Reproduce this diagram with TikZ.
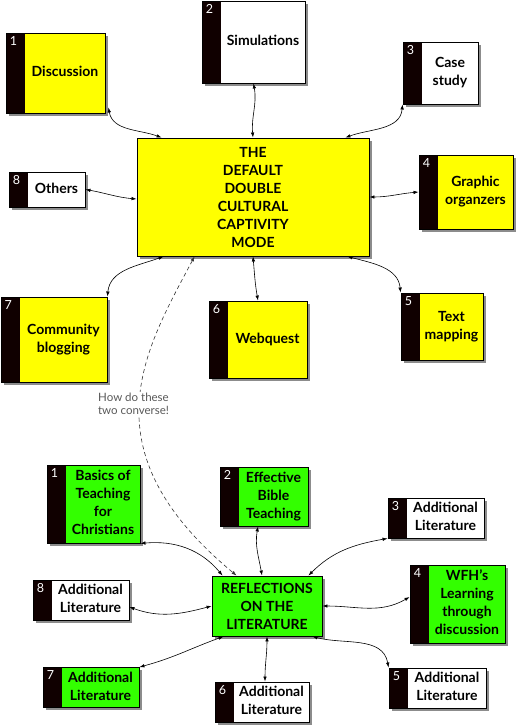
\documentclass[tikz,border=0pt]{standalone}
\usepackage{fontspec}
\setmainfont{Lato}
\usetikzlibrary{arrows.meta,shadows}

\definecolor{boxyellow}{RGB}{255,255,0}
\definecolor{boxgreen}{RGB}{51,255,0}
\definecolor{stripblack}{RGB}{16,0,0}

% text of a numbered box, pushed right of the black strip
\newcommand\striptext[1]{\begin{tabular}{@{\hspace{19pt}}c@{}}#1\end{tabular}}

\tikzset{
  plainbox/.style={draw, line width=0.9pt, inner sep=2pt, align=center,
    font=\bfseries\fontsize{14}{18}\selectfont,
    drop shadow={shadow xshift=2.5pt, shadow yshift=-2.5pt, fill=black!45, opacity=1}},
  topic/.style={draw, line width=0.9pt, inner sep=2pt,
    font=\bfseries\fontsize{14}{18}\selectfont,
    drop shadow={shadow xshift=2.5pt, shadow yshift=-2.5pt, fill=black!45, opacity=1},
    path picture={\fill[stripblack] (path picture bounding box.south west)
      rectangle ([xshift=19pt]path picture bounding box.north west);}},
  yel/.style={fill=boxyellow},
  grn/.style={fill=boxgreen},
  wht/.style={fill=white},
  numlbl/.style={anchor=north west, text=white, inner xsep=4pt, inner ysep=3.5pt,
    font=\fontsize{12.5}{12.5}\selectfont},
  nr/.style={label={[numlbl]north west:#1}},
  link/.style={{Latex[length=5pt,width=3.5pt]}-{Latex[length=5pt,width=3.5pt]}, line width=0.6pt},
  talk/.style={link, black!80, dash pattern=on 4pt off 3pt},
  remark/.style={font=\fontsize{11.5}{13}\selectfont, text=black!65, fill=white,
    inner sep=1pt, align=center}
}

\begin{document}
\begin{tikzpicture}[x=1pt, y=-1pt]
  \useasboundingbox (0,0) rectangle (520,728);

  %Nodes (upper map)
  \node[plainbox, yel, minimum width=232pt, minimum height=118pt] at (253,197) (main)
       {THE\\DEFAULT\\DOUBLE\\CULTURAL\\CAPTIVITY\\MODE};
  \node[topic, yel, nr=1, minimum width=99pt,  minimum height=80pt] at (55.5,73)   (d1) {\striptext{Discussion}};
  \node[topic, wht, nr=2, minimum width=103pt, minimum height=82pt] at (253.5,42)  (d2) {\striptext{Simulations}};
  \node[topic, wht, nr=3, minimum width=75pt,  minimum height=62pt] at (440.5,73)  (d3) {\striptext{Case\\study}};
  \node[topic, yel, nr=4, minimum width=94pt,  minimum height=74pt] at (466,192)   (d4) {\striptext{Graphic\\organzers}};
  \node[topic, yel, nr=5, minimum width=82pt,  minimum height=67pt] at (442,326.5) (d5) {\striptext{Text\\mapping}};
  \node[topic, yel, nr=6, minimum width=98pt,  minimum height=77pt] at (258,339.5) (d6) {\striptext{Webquest}};
  \node[topic, yel, nr=7, minimum width=106pt, minimum height=85pt] at (54,339.5)  (d7) {\striptext{Community\\blogging}};
  \node[topic, wht, nr=8, minimum width=76pt,  minimum height=35pt] at (47,189.5)  (d8) {\striptext{Others}};

  %Nodes (lower map)
  \node[plainbox, grn, minimum width=110pt, minimum height=60pt] at (267,606) (refl)
       {REFLECTIONS\\ON THE\\LITERATURE};
  \node[topic, grn, nr=1, minimum width=93pt, minimum height=78pt] at (93.5,504)  (r1) {\striptext{Basics of\\Teaching\\for\\Christians}};
  \node[topic, grn, nr=2, minimum width=88pt, minimum height=59pt] at (264,496.5) (r2) {\striptext{Effective\\Bible\\Teaching}};
  \node[topic, wht, nr=3, minimum width=96pt, minimum height=40pt] at (436,518)   (r3) {\striptext{Additional\\Literature}};
  \node[topic, grn, nr=4, minimum width=95pt, minimum height=78pt] at (457.5,604) (r4) {\striptext{WFH's\\Learning\\through\\discussion}};
  \node[topic, wht, nr=5, minimum width=97pt, minimum height=38pt] at (437.5,688) (r5) {\striptext{Additional\\Literature}};
  \node[topic, wht, nr=6, minimum width=94pt, minimum height=40pt] at (262,702)   (r6) {\striptext{Additional\\Literature}};
  \node[topic, grn, nr=7, minimum width=96pt, minimum height=39pt] at (91,687.5)  (r7) {\striptext{Additional\\Literature}};
  \node[topic, wht, nr=8, minimum width=96pt, minimum height=38pt] at (81,600)    (r8) {\striptext{Additional\\Literature}};

  %Lines (upper map)
  \draw[link] ([xshift=3pt,yshift=6pt]d1.south east) to[out=-80, in=160] ([xshift=25pt]main.north west);
  \draw[link] (d2.south) to[out=-80, in=95] (main.north);
  \draw[link] (d3.south west) to[out=-95, in=20] ([xshift=-24pt]main.north east);
  \draw[link] (d8.east) to[out=-10, in=175] ([yshift=-2pt]main.west);
  \draw[link] (main.east) to[out=0, in=185] (d4.west);
  \draw[link] ([xshift=27pt]main.south west) to[out=200, in=85] (d7.north east);
  \draw[link] (main.south) to[out=-85, in=100] (d6.north);
  \draw[link] ([xshift=-22pt]main.south east) to[out=-15, in=95] (d5.north west);

  %Lines (lower map)
  \draw[link] (r1.south east) to[out=5, in=130] ([xshift=11pt]refl.north west);
  \draw[link] ([xshift=-6pt]r2.south) to[out=-100, in=100] ([xshift=-5pt]refl.north);
  \draw[link] (r3.south west) to[out=190, in=45] ([xshift=-14pt]refl.north east);
  \draw[link] ([yshift=-7pt]r8.east) to[out=-20, in=195] (refl.west);
  \draw[link] (refl.east) to[out=0, in=210] ([yshift=7pt]r4.west);
  \draw[link] ([xshift=12pt]refl.south west) to[out=200, in=15] (r7.north east);
  \draw[link] (refl.south) to[out=-90, in=90] ([xshift=3pt]r6.north);
  \draw[link] ([xshift=-10pt]refl.south east) to[out=-15, in=100] (r5.north west);

  %Dashed question between the two maps
  \draw[talk] ([xshift=58pt]main.south west) .. controls +(-50,94) and +(-152,-126) .. ([xshift=25pt]refl.north west);
  \node[remark] at (133.5,404) (ask) {How do these\\two converse!};
\end{tikzpicture}
\end{document}
